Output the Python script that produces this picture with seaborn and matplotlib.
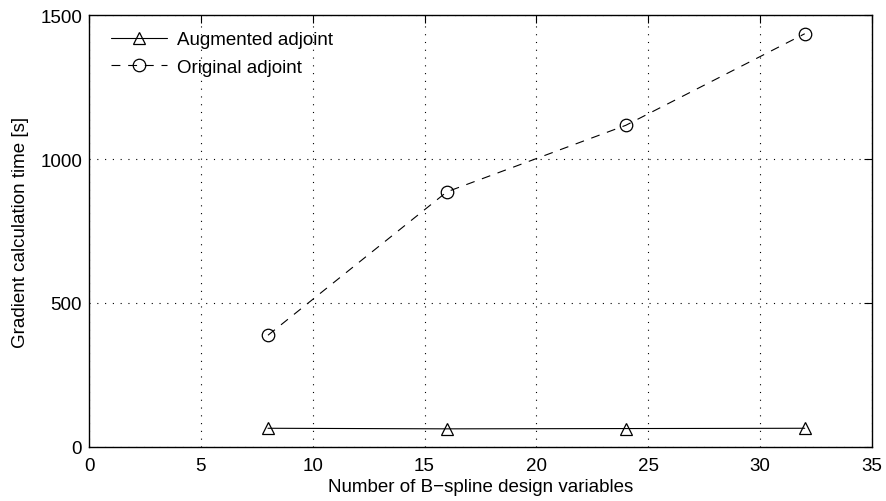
import matplotlib
matplotlib.use("Agg")
import matplotlib.pyplot as plt
from matplotlib.lines import Line2D
import seaborn as sns
import pandas as pd

design_vars = [8, 16, 24, 32]
augmented = [65, 63, 64, 65]
original = [388, 886, 1117, 1435]

sns.set_theme(style="white")
plt.rcParams["font.family"] = ["Liberation Sans", "DejaVu Sans"]
plt.rcParams["text.color"] = "black"
plt.rcParams["axes.labelcolor"] = "black"

df = pd.concat([
    pd.DataFrame({"n": design_vars, "t": augmented, "method": "Augmented adjoint"}),
    pd.DataFrame({"n": design_vars, "t": original, "method": "Original adjoint"}),
])

FS = 13.5
DASH = (8, 7)

fig = plt.figure(figsize=(8.86, 5.02), dpi=100)
ax = fig.add_axes([0.1005, 0.1076, 0.8835, 0.8605])

sns.lineplot(data=df, x="n", y="t", hue="method", style="method",
             markers={"Augmented adjoint": "^", "Original adjoint": "o"},
             dashes={"Augmented adjoint": "", "Original adjoint": DASH},
             palette={"Augmented adjoint": "black", "Original adjoint": "black"},
             markersize=9, markerfacecolor="none", markeredgecolor="black",
             markeredgewidth=0.9, linewidth=0.8, ax=ax, legend=False)

ax.set_xlim(0, 35)
ax.set_ylim(0, 1500)
ax.set_xticks(range(0, 36, 5))
ax.set_yticks([0, 500, 1000, 1500])
ax.grid(True, linestyle=(0, (1, 6)), color="black", linewidth=0.8)
ax.tick_params(direction="in", length=6, width=0.8, labelsize=FS,
               top=True, right=True, colors="black")
ax.tick_params(axis="x", pad=7)
ax.tick_params(axis="y", pad=5)
for s in ax.spines.values():
    s.set_visible(True)
    s.set_color("black")
    s.set_linewidth(1.0)

ax.set_xlabel("Number of B\u2212spline design variables", fontsize=FS, labelpad=3)
ax.set_ylabel("Gradient calculation time [s]", fontsize=FS, labelpad=8)

handles = [
    Line2D([], [], color="black", lw=0.8, marker="^", markersize=9,
           markerfacecolor="none", markeredgewidth=0.9),
    Line2D([], [], color="black", lw=0.8, ls=(0, DASH), marker="o", markersize=9,
           markerfacecolor="none", markeredgewidth=0.9),
]
ax.legend(handles, ["Augmented adjoint", "Original adjoint"], loc="upper left",
          bbox_to_anchor=(0.008, 1.0),
          frameon=False, fontsize=FS, handlelength=3.0, handletextpad=0.5,
          borderaxespad=0.5, labelspacing=0.55, borderpad=0.35)

fig.savefig("out.png", dpi=100)
